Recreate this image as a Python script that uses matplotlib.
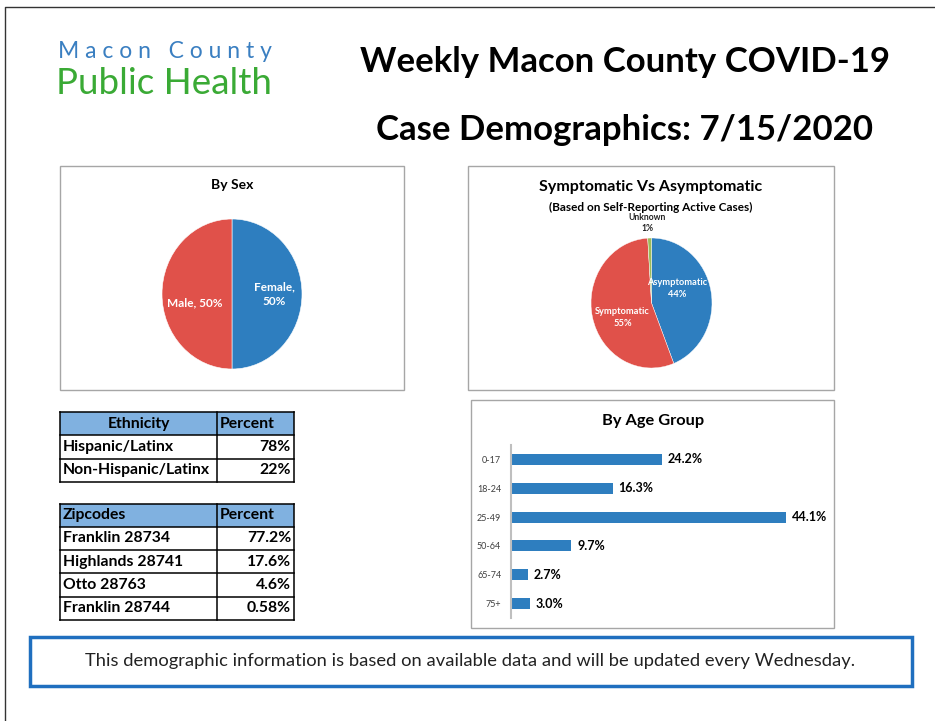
import matplotlib.pyplot as plt
from matplotlib.patches import Rectangle

W, H = 935, 721

# data
sex_labels = ['Female', 'Male']
sex_pct = [50, 50]

symp_labels = ['Asymptomatic', 'Symptomatic', 'Unknown']
symp_pct = [44, 55, 1]

age_groups = ['0-17', '18-24', '25-49', '50-64', '65-74', '75+']
age_pct = [24.2, 16.3, 44.1, 9.7, 2.7, 3.0]

eth_names = ['Hispanic/Latinx', 'Non-Hispanic/Latinx']
eth_pct = ['78%', '22%']

zip_names = ['Franklin 28734', 'Highlands 28741', 'Otto 28763', 'Franklin 28744']
zip_pct = ['77.2%', '17.6%', '4.6%', '0.58%']

BLUE = '#2e7ebf'
RED = '#e0514a'
GREEN = '#9bbb59'
HEAD = '#80b1e0'
FONT = 'Lato'

plt.rcParams['font.family'] = [FONT, 'DejaVu Sans']

fig = plt.figure(figsize=(W / 100, H / 100), dpi=100)


def px_axes(x, y, w, h):
    return fig.add_axes([x / W, 1 - (y + h) / H, w / W, h / H])


# overlay axes in pixel coordinates
bg = px_axes(0, 0, W, H)
bg.set_xlim(0, W)
bg.set_ylim(H, 0)
bg.axis('off')

# page border
bg.plot([5, 5, W], [H, 7, 7], color='#333333', lw=1)

# logo
bg.text(58, 52, 'M a c o n   C o u n t y', fontsize=16.5, color='#3a7fc1',
        ha='left', va='center')
bg.text(56, 84, 'Public Health', fontsize=26.5, color='#3aaa35',
        ha='left', va='center')

# titles
bg.text(625, 62, 'Weekly Macon County COVID-19', fontsize=25,
        fontweight='bold', ha='center', va='center')
bg.text(625, 130, 'Case Demographics: 7/15/2020', fontsize=25,
        fontweight='bold', ha='center', va='center')

# chart boxes
for (x0, y0, x1, y1) in [(60, 166, 404, 390), (468, 166, 834, 390), (471, 400, 834, 628)]:
    bg.add_patch(Rectangle((x0, y0), x1 - x0, y1 - y0, fill=False,
                           ec='#a6a6a6', lw=1))

bg.text(232, 185, 'By Sex', fontsize=10, fontweight='bold', ha='center', va='center')
bg.text(651, 187, 'Symptomatic Vs Asymptomatic', fontsize=11.5,
        fontweight='bold', ha='center', va='center')
bg.text(651, 207, '(Based on Self-Reporting Active Cases)', fontsize=8.5,
        fontweight='bold', ha='center', va='center')
bg.text(653, 421, 'By Age Group', fontsize=11.8, fontweight='bold',
        ha='center', va='center')

# sex pie
ax1 = px_axes(162, 219, 140, 150)
ax1.pie(sex_pct, colors=[BLUE, RED], startangle=90, counterclock=False,
        wedgeprops=dict(edgecolor='white', linewidth=0.4))
ax1.set_aspect('auto')
ax1.set_xlim(-1, 1)
ax1.set_ylim(-1, 1)
ax1.text(0.6, 0.0, f'{sex_labels[0]},\n{sex_pct[0]}%', color='white',
         fontsize=8.5, fontweight='bold', ha='center', va='center', linespacing=1.4)
ax1.text(-0.53, -0.12, f'{sex_labels[1]}, {sex_pct[1]}%', color='white',
         fontsize=8.5, fontweight='bold', ha='center', va='center')

# symptomatic pie
ax2 = px_axes(591, 238, 121, 130)
ax2.pie(symp_pct, colors=[BLUE, RED, GREEN], startangle=90, counterclock=False,
        wedgeprops=dict(edgecolor='white', linewidth=0.3))
ax2.set_aspect('auto')
ax2.set_xlim(-1, 1)
ax2.set_ylim(-1, 1)
ax2.text(0.42, 0.22, f'{symp_labels[0]}\n{symp_pct[0]}%', color='white',
         fontsize=6.7, fontweight='bold', ha='center', va='center', linespacing=1.4)
ax2.text(-0.48, -0.22, f'{symp_labels[1]}\n{symp_pct[1]}%', color='white',
         fontsize=6.7, fontweight='bold', ha='center', va='center', linespacing=1.4)
ax2.text(-0.07, 1.23, f'{symp_labels[2]}\n{symp_pct[2]}%', color='#222222',
         fontsize=6.2, fontweight='bold', ha='center', va='center',
         linespacing=1.4, clip_on=False)

# age bar chart
ax3 = px_axes(511, 445, 323, 173)
y = range(len(age_groups))
ax3.barh(y, age_pct, height=0.38, color=BLUE)
ax3.set_ylim(5.5, -0.5)
ax3.set_xlim(0, 323 / 6.236)
ax3.set_yticks(list(y))
ax3.set_yticklabels(age_groups, fontsize=6.5, color='#404040')
ax3.tick_params(axis='y', length=0, pad=7)
ax3.set_xticks([])
for s in ['top', 'right', 'bottom']:
    ax3.spines[s].set_visible(False)
ax3.spines['left'].set_color('#bfbfbf')
ax3.spines['left'].set_linewidth(1.5)
ax3.patch.set_alpha(0)
for i, v in enumerate(age_pct):
    ax3.annotate(f'{v:.1f}%', (v, i), xytext=(4, 0), textcoords='offset points',
                 fontsize=9, fontweight='bold', va='center', ha='left')


# tables
def draw_table(top, header, names, vals, head_center):
    x0, xm, x1 = 60, 217, 294
    rh = 23.3
    n = len(names) + 1
    fs = 11.3
    bg.add_patch(Rectangle((x0, top), x1 - x0, rh, fc=HEAD, ec='none'))
    for k in range(n + 1):
        bg.plot([x0, x1], [top + k * rh] * 2, color='black', lw=1.1)
    for xx in (x0, xm, x1):
        bg.plot([xx, xx], [top, top + n * rh], color='black', lw=1.1)
    if head_center:
        bg.text((x0 + xm) / 2, top + rh / 2, header, fontsize=fs,
                fontweight='bold', ha='center', va='center')
    else:
        bg.text(x0 + 3, top + rh / 2, header, fontsize=fs,
                fontweight='bold', ha='left', va='center')
    bg.text(xm + 3, top + rh / 2, 'Percent', fontsize=fs,
            fontweight='bold', ha='left', va='center')
    for k, (nm, v) in enumerate(zip(names, vals)):
        yc = top + (k + 1.5) * rh
        bg.text(x0 + 3, yc, nm, fontsize=fs, fontweight='bold',
                ha='left', va='center')
        bg.text(x1 - 3, yc, v, fontsize=fs, fontweight='bold',
                ha='right', va='center')


draw_table(412, 'Ethnicity', eth_names, eth_pct, True)
draw_table(503.5, 'Zipcodes', zip_names, zip_pct, False)

# footer
bg.add_patch(Rectangle((30, 637), 882, 49, fill=False, ec='#1f6fbf', lw=2.5))
bg.text(470, 661, 'This demographic information is based on available data and '
        'will be updated every Wednesday.', fontsize=13.2, color='#222222',
        ha='center', va='center')

fig.savefig('out.png', dpi=100)
